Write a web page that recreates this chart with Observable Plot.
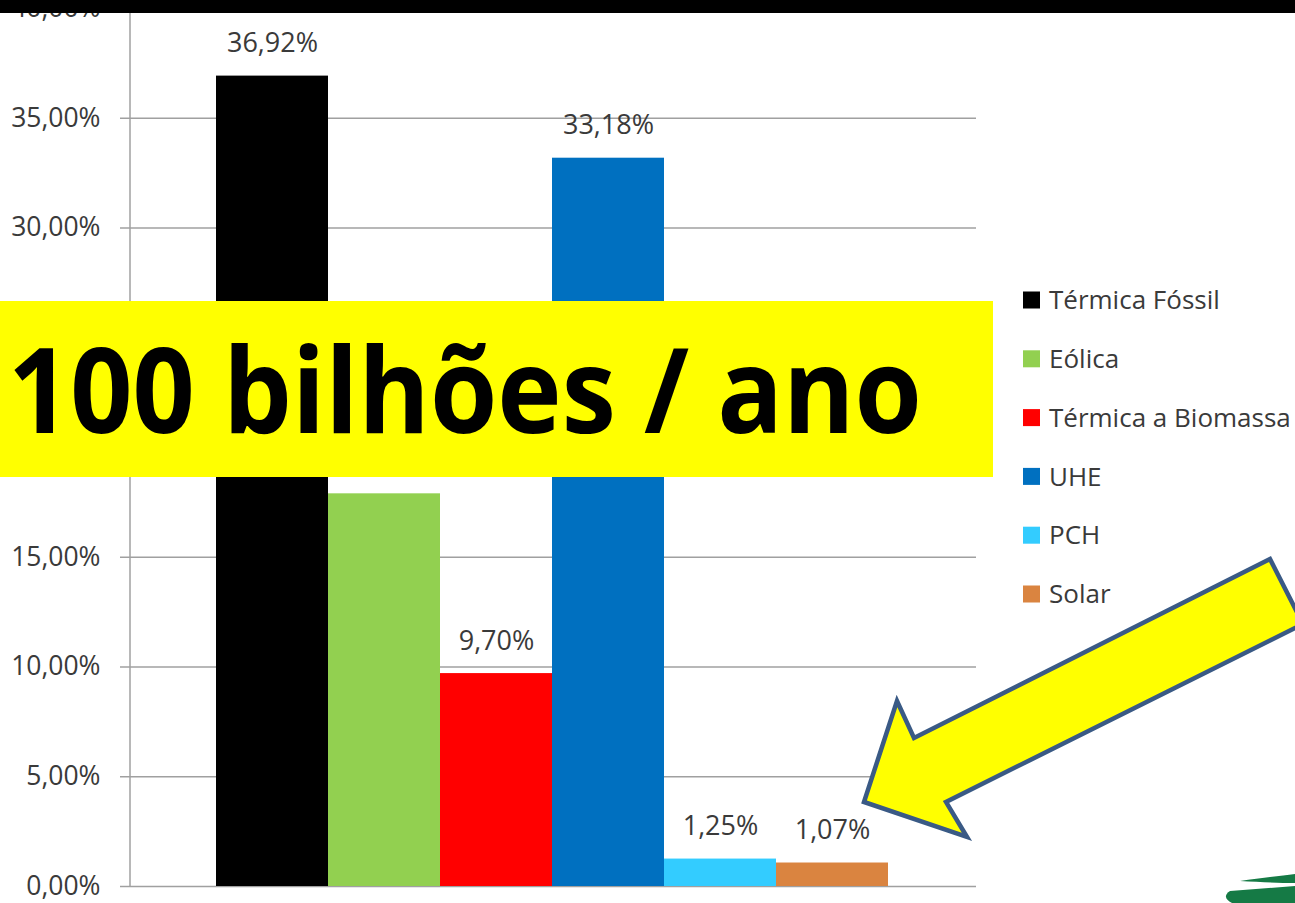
<!DOCTYPE html>
<html>
<head>
<meta charset="utf-8">
<script src="https://cdn.jsdelivr.net/npm/d3@7"></script>
<script src="https://cdn.jsdelivr.net/npm/@observablehq/plot@0.6"></script>
<style>
  html, body { margin: 0; padding: 0; background: #ffffff; }
  #chart { position: absolute; left: 0; top: 0; width: 1295px; height: 903px; overflow: hidden; }
</style>
</head>
<body>
<div id="chart"></div>
<script>
// ---- data ----
const categories = ["Térmica Fóssil", "Eólica", "Térmica a Biomassa", "UHE", "PCH", "Solar"];
const values = [36.92, 17.89, 9.70, 33.18, 1.25, 1.07];
const colors = ["#000000", "#92d050", "#ff0000", "#0070c0", "#33ccff", "#da8440"];
const yTicks = [0, 5, 10, 15, 20, 25, 30, 35, 40];
const bannerText = "100 bilhões / ano";

const data = categories.map((c, i) => ({cat: c, value: values[i]}));
const fmt = v => v.toFixed(2).replace(".", ",") + "%";

const gray = "#a0a0a0";
const textGray = "#3a3a3a";

const svg = Plot.plot({
  width: 1295,
  height: 903,
  marginLeft: 130,
  marginRight: 319,
  marginTop: 8,
  marginBottom: 17,
  style: {fontFamily: "Open Sans", background: "#ffffff", color: textGray},
  x: {type: "band", domain: categories, range: [214, 889], padding: 0, axis: null},
  y: {domain: [0, 40]},
  color: {domain: categories, range: colors},
  marks: [
    Plot.gridY(yTicks, {stroke: gray, strokeOpacity: 1, strokeWidth: 1.5}),
    Plot.axisY(yTicks, {
      tickFormat: fmt, tickSize: 10, tickPadding: 20, fontSize: 26.5,
      stroke: gray, strokeWidth: 1.5, fill: textGray, label: null
    }),
    Plot.barY(data, {x: "cat", y: "value", fill: "cat", inset: 0}),
    Plot.text(data, {
      x: "cat", y: "value", text: d => fmt(d.value),
      lineAnchor: "bottom", dy: -24, fontSize: 27, fill: textGray
    })
  ]
});

document.getElementById("chart").appendChild(svg);

const s = d3.select(svg);
const yScale = svg.scale("y");

// vertical axis line
s.append("line")
  .attr("x1", 130).attr("x2", 130)
  .attr("y1", 0).attr("y2", yScale.apply(0))
  .attr("stroke", gray).attr("stroke-width", 1.5);

// legend
const lg = s.append("g")
  .attr("font-family", "Open Sans").attr("font-size", 26)
  .attr("text-anchor", "start").attr("fill", textGray);
categories.forEach((c, i) => {
  const cy = 300 + i * 58.8;
  lg.append("rect").attr("x", 1023).attr("y", cy - 8.5).attr("width", 17).attr("height", 17).attr("fill", colors[i]);
  lg.append("text").attr("x", 1049).attr("y", cy).attr("dy", "0.35em").text(c);
});

// yellow banner
s.append("rect").attr("x", 0).attr("y", 301).attr("width", 993).attr("height", 176).attr("fill", "#ffff00");
s.append("text")
  .attr("x", 8).attr("y", 433)
  .attr("text-anchor", "start")
  .attr("font-family", "Open Sans").attr("font-weight", 700).attr("font-size", 118)
  .attr("textLength", 914).attr("lengthAdjust", "spacingAndGlyphs")
  .attr("fill", "#000000")
  .text(bannerText);

// arrow
s.append("polygon")
  .attr("points", "864,802 897,701 914,738 1270,559 1303,624 946,802 967,837")
  .attr("fill", "#ffff00").attr("stroke", "#3a5a85").attr("stroke-width", 4.5).attr("stroke-linejoin", "miter");

// logo fragment
s.append("path").attr("d", "M1240,881 C1260,878 1280,876 1295,874 L1295,883 C1280,883 1260,882 1240,881 Z").attr("fill", "#157a45");
s.append("path").attr("d", "M1230,891 L1295,886 L1295,903 L1232,903 Q1221,897 1230,891 Z").attr("fill", "#157a45");

// top black band
s.append("rect").attr("x", 0).attr("y", 0).attr("width", 1295).attr("height", 13).attr("fill", "#000000");
</script>
</body>
</html>
